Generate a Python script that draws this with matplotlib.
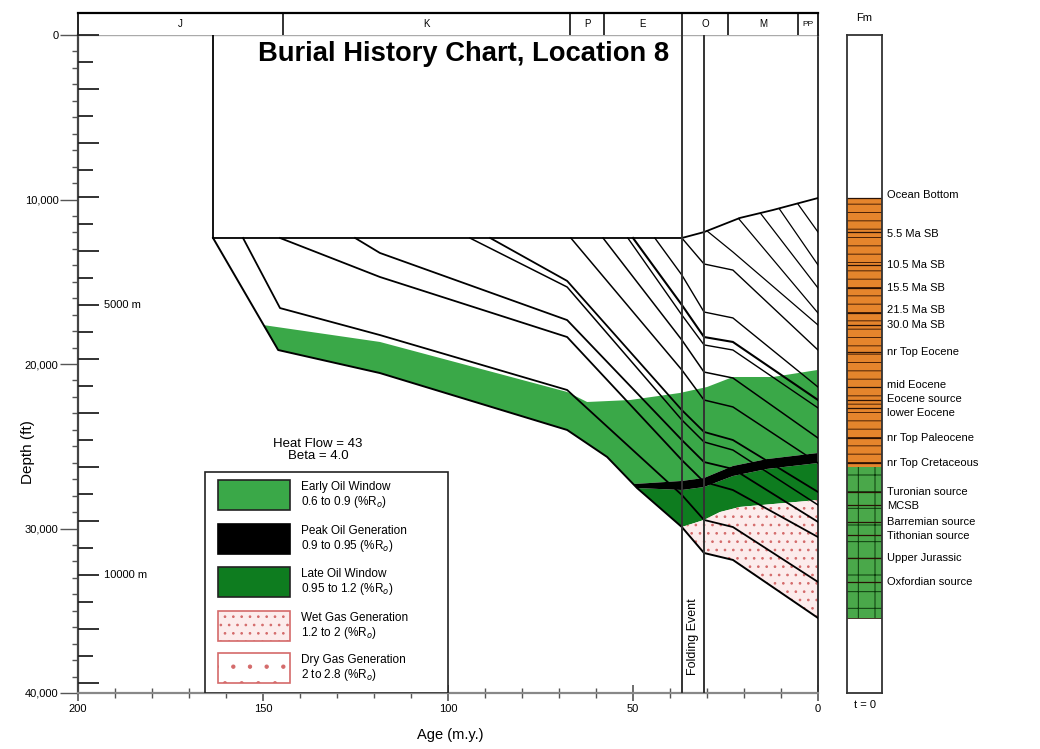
import numpy as np
import matplotlib.pyplot as plt
from matplotlib.patches import Rectangle
from matplotlib.ticker import MultipleLocator

plt.rcParams['font.family'] = ['Liberation Sans', 'DejaVu Sans']
plt.rcParams['hatch.linewidth'] = 0.7

# ---- data: age in Ma, depth in thousands of feet ----
period_names = ['J', 'K', 'P', 'E', 'O', 'M', 'PP']
period_edges = [200, 144.6, 67.0, 57.8, 36.8, 24.3, 5.4, 0]

fold_event = [36.8, 30.8]

sea_age = [163.5, 36.8, 30.8, 21.1, 12.2, 0]
sea_depth = [12.34, 12.34, 11.98, 11.12, 10.64, 9.91]

basement_age = [163.5, 145.9, 118.4, 67.8, 57.0, 48.9, 36.8, 30.8, 23.0, 0]
basement_depth = [12.34, 19.15, 20.55, 24.01, 25.65, 27.54, 29.91, 31.49, 31.91, 35.44]

oxf_age = [155.4, 145.4, 118.4, 67.8, 36.8, 30.8, 23.0, 0]
oxf_depth = [12.34, 16.60, 18.24, 21.58, 27.96, 29.48, 29.91, 33.25]

tith_age = [145.4, 118.4, 67.8, 36.8, 30.8, 23.0, 0]
tith_depth = [12.34, 14.71, 18.36, 25.84, 27.17, 27.66, 30.52]

barr_age = [125.1, 118.4, 67.8, 36.8, 30.8, 23.0, 0]
barr_depth = [12.34, 13.25, 17.33, 24.62, 25.96, 26.38, 29.60]

mcsb_age = [94.1, 67.8, 36.8, 30.8, 23.0, 0]
mcsb_depth = [12.34, 15.32, 23.40, 24.74, 25.23, 28.57]

tur_age = [88.6, 67.8, 36.8, 30.8, 23.0, 0]
tur_depth = [12.34, 14.95, 22.80, 24.13, 24.62, 27.78]

cret_age = [66.8, 36.8, 30.8, 23.0, 0]
cret_depth = [12.34, 20.36, 22.19, 22.61, 26.02]

pal_age = [58.1, 36.8, 30.8, 23.0, 0]
pal_depth = [12.34, 18.54, 20.49, 20.85, 24.50]

leoc_age = [51.4, 36.8, 30.8, 23.0, 0]
leoc_depth = [12.34, 17.02, 18.84, 19.15, 22.67]

eocsrc_age = [50.0, 36.8, 30.8, 23.0, 0]
eocsrc_depth = [12.34, 16.41, 18.36, 18.66, 22.19]

meoc_age = [44.1, 36.8, 30.8, 23.0, 0]
meoc_depth = [12.34, 14.59, 16.84, 17.20, 21.40]

teoc_age = [36.8, 30.8, 23.0, 0]
teoc_depth = [12.34, 13.92, 14.29, 19.15]

sb30_age = [30.0, 23.0, 0]
sb30_depth = [11.91, 13.19, 17.63]
sb21_age = [21.5, 0]
sb21_depth = [11.15, 16.90]
sb15_age = [15.5, 0]
sb15_depth = [10.85, 15.38]
sb10_age = [10.5, 0]
sb10_depth = [10.55, 13.98]
sb5_age = [5.5, 0]
sb5_depth = [10.25, 11.98]

# maturity zones
oil_top_age = [150.0, 118.4, 67.8, 62.4, 50.8, 37.3, 30.0, 23.0, 12.2, 0]
oil_top_depth = [17.63, 18.66, 21.70, 22.31, 22.19, 21.76, 21.40, 20.79, 20.79, 20.36]
peak_top_age = [50.0, 36.8, 30.8, 23.0, 13.8, 0]
peak_top_depth = [27.30, 27.11, 26.93, 26.20, 25.78, 25.41]
peak_bot_age = [48.9, 36.8, 30.8, 23.0, 13.8, 0]
peak_bot_depth = [27.54, 27.66, 27.48, 26.81, 26.38, 26.02]
gas_top_age = [36.8, 30.8, 26.5, 21.1, 0]
gas_top_depth = [29.91, 29.48, 29.00, 28.69, 28.27]

# formation column (present day depths) and where each name is written
fm_names = ['Ocean Bottom', '5.5 Ma SB', '10.5 Ma SB', '15.5 Ma SB', '21.5 Ma SB',
            '30.0 Ma SB', 'nr Top Eocene', 'mid Eocene', 'Eocene source', 'lower Eocene',
            'nr Top Paleocene', 'nr Top Cretaceous', 'Turonian source', 'MCSB',
            'Barremian source', 'Tithonian source', 'Upper Jurassic', 'Oxfordian source']
fm_depths = [9.91, 11.98, 13.98, 15.38, 16.90, 17.63, 19.27, 21.40, 22.19, 22.67,
             24.50, 26.02, 27.78, 28.57, 29.60, 30.40, 31.79, 33.25]
fm_label_depths = [9.75, 12.10, 13.98, 15.38, 16.70, 17.62, 19.27, 21.25, 22.10, 22.95,
                   24.50, 26.02, 27.78, 28.62, 29.60, 30.45, 31.79, 33.25]
clastic_base = 26.26

legend_names = ['Early Oil Window', 'Peak Oil Generation', 'Late Oil Window',
                'Wet Gas Generation', 'Dry Gas Generation']
legend_ranges = ['0.6 to 0.9 (%R$_o$)', '0.9 to 0.95 (%R$_o$)', '0.95 to 1.2 (%R$_o$)',
                 '1.2 to 2 (%R$_o$)', '2 to 2.8 (%R$_o$)']

EARLY = '#3aa848'
LATE = '#0e7c1f'
GAS_FACE = '#fcecec'
GAS_DOT = '#d46a6a'

horizons = [
    (basement_age, basement_depth, 1.4),
    (oxf_age, oxf_depth, 1.3),
    (tith_age, tith_depth, 1.3),
    (barr_age, barr_depth, 1.3),
    (mcsb_age, mcsb_depth, 1.1),
    (tur_age, tur_depth, 1.3),
    (cret_age, cret_depth, 1.1),
    (pal_age, pal_depth, 1.1),
    (leoc_age, leoc_depth, 1.0),
    (eocsrc_age, eocsrc_depth, 1.5),
    (meoc_age, meoc_depth, 1.0),
    (teoc_age, teoc_depth, 1.0),
    (sb30_age, sb30_depth, 0.9),
    (sb21_age, sb21_depth, 0.9),
    (sb15_age, sb15_depth, 0.9),
    (sb10_age, sb10_depth, 0.9),
    (sb5_age, sb5_depth, 0.9),
]

W, H = 1040, 749
fig = plt.figure(figsize=(W / 100, H / 100), dpi=100)
L, R, T, B = 78, 818, 35, 693
rect = [L / W, 1 - B / H, (R - L) / W, (B - T) / H]
ax = fig.add_axes(rect)
strip = fig.add_axes([L / W, 1 - T / H, (R - L) / W, 22 / H])
col = fig.add_axes([847 / W, 1 - B / H, 35 / W, (B - T) / H])


def fx(px):
    return (px - L) / (R - L)


def fy(py):
    return 1 - (py - T) / (B - T)


ax.set_xlim(200, 0)
ax.set_ylim(40, 0)

# ---- maturity fills ----
b_age = np.array(basement_age)
b_dep = np.array(basement_depth)

m = (b_age > peak_top_age[0]) & (b_age < oil_top_age[0])
ex = list(oil_top_age) + peak_top_age[::-1] + list(b_age[m][::-1])
ey = list(oil_top_depth) + peak_top_depth[::-1] + list(b_dep[m][::-1])
ax.fill(ex, ey, color=EARLY, lw=0, zorder=1)

ax.fill(peak_top_age + peak_bot_age[::-1], peak_top_depth + peak_bot_depth[::-1],
        color='black', lw=0, zorder=2)

lx = peak_bot_age + gas_top_age[::-1]
ly = peak_bot_depth + gas_top_depth[::-1]
ax.fill(lx, ly, color=LATE, lw=0, zorder=1)

m = b_age <= gas_top_age[0]
gx = gas_top_age + list(b_age[m][::-1])
gy = gas_top_depth + list(b_dep[m][::-1])
ax.fill(gx, gy, facecolor=GAS_FACE, edgecolor=GAS_DOT, hatch='..', lw=0, zorder=1)

# ---- burial curves ----
for a, d, lw in horizons:
    ax.plot(a, d, color='black', lw=lw, zorder=3, solid_joinstyle='round')
ax.plot(sea_age, sea_depth, color='black', lw=1.3, zorder=3)
ax.vlines(sea_age[0], 0, sea_depth[0], color='black', lw=1.3, zorder=3)

for f in fold_event:
    ax.axvline(f, color='#333333', lw=1.4, zorder=4)
ax.text(np.mean(fold_event), 36.6, 'Folding Event', rotation=90, ha='center',
        va='center', fontsize=9, zorder=5)

# ---- axes styling ----
ax.set_yticks([0, 10, 20, 30, 40])
ax.set_yticklabels(['0', '10,000', '20,000', '30,000', '40,000'])
ax.yaxis.set_minor_locator(MultipleLocator(1))
ax.tick_params(axis='y', which='major', direction='out', length=13, width=1,
               color='#555555', labelsize=8, pad=1)
ax.tick_params(axis='y', which='minor', direction='out', length=4, width=1,
               color='#555555')
ax.set_xticks([200, 150, 100, 50, 0])
ax.xaxis.set_minor_locator(MultipleLocator(10))
ax.tick_params(axis='x', which='major', direction='inout', length=12, width=1.2,
               color='#555555', labelsize=8, pad=2)
ax.tick_params(axis='x', which='minor', direction='inout', length=7, width=1,
               color='#555555')
ax.spines['left'].set_color('#444444')
ax.spines['left'].set_linewidth(1.6)
ax.spines['bottom'].set_color('#888888')
ax.spines['bottom'].set_linewidth(1.6)
ax.spines['top'].set_color('#aaaaaa')
ax.spines['top'].set_linewidth(1.0)
ax.spines['right'].set_color('#333333')
ax.spines['right'].set_linewidth(1.4)

# metre scale on the inside of the depth axis (overlay axes in metres)
axm = fig.add_axes(rect, frameon=False)
axm.patch.set_visible(False)
axm.set_ylim(ax.get_ylim()[0] * 304.8, 0)
axm.set_xticks([])
axm.yaxis.set_major_locator(MultipleLocator(1000))
axm.yaxis.set_minor_locator(MultipleLocator(500))
axm.tick_params(axis='y', which='major', direction='in', length=15, width=1.3,
                color='#222222', labelleft=False)
axm.tick_params(axis='y', which='minor', direction='in', length=11, width=1.3,
                color='#222222')
ax.text(193, 5000 / 304.8, '5000 m', fontsize=8, va='center', ha='left')
ax.text(193, 10000 / 304.8, '10000 m', fontsize=8, va='center', ha='left')

fig.text(28 / W, 1 - 452 / H, 'Depth (ft)', rotation=90, ha='center', va='center',
         fontsize=11)
fig.text(450 / W, 1 - 735 / H, 'Age (m.y.)', ha='center', va='center', fontsize=10.5)

ax.text(fx(464), fy(54), 'Burial History Chart, Location 8', transform=ax.transAxes,
        ha='center', va='center', fontsize=19.7, fontweight='bold', zorder=6)
ax.text(fx(318), fy(450), 'Heat Flow = 43\nBeta = 4.0', transform=ax.transAxes,
        ha='center', va='center', fontsize=9.5, linespacing=1.0, zorder=6)

# ---- legend ----
ax.add_patch(Rectangle((fx(205), 0), fx(448) - fx(205), fy(472), transform=ax.transAxes,
                       facecolor='white', edgecolor='#222222', lw=1.2, zorder=7))
leg_tops = [480, 524, 567, 611, 653]
leg_style = [dict(facecolor=EARLY, edgecolor='#222222'),
             dict(facecolor='black', edgecolor='black'),
             dict(facecolor=LATE, edgecolor='#222222'),
             dict(facecolor=GAS_FACE, edgecolor=GAS_DOT, hatch='..'),
             dict(facecolor='white', edgecolor=GAS_DOT, hatch='.')]
for top, name, rng, st in zip(leg_tops, legend_names, legend_ranges, leg_style):
    ax.add_patch(Rectangle((fx(218), fy(top + 30)), fx(290) - fx(218), fy(top) - fy(top + 30),
                           transform=ax.transAxes, lw=1.2, zorder=8, **st))
    ax.text(fx(301), fy(top + 7), name, transform=ax.transAxes, fontsize=8.5,
            va='center', zorder=8)
    ax.text(fx(301), fy(top + 22), rng, transform=ax.transAxes, fontsize=8.5,
            va='center', zorder=8)

# ---- period strip ----
strip.set_xlim(200, 0)
strip.set_ylim(0, 1)
strip.set_xticks([])
strip.set_yticks([])
for e in period_edges[1:-1]:
    strip.axvline(e, color='#222222', lw=1.3)
for i, name in enumerate(period_names):
    strip.text((period_edges[i] + period_edges[i + 1]) / 2, 0.5, name, ha='center',
               va='center', fontsize=7 if name != 'PP' else 6)
for s in ['left', 'right']:
    strip.spines[s].set_color('#222222')
    strip.spines[s].set_linewidth(1.4)
strip.spines['top'].set_linewidth(1.6)
strip.spines['bottom'].set_visible(False)

# ---- formation column ----
col.set_xlim(0, 1)
col.set_ylim(40, 0)
col.set_xticks([])
col.set_yticks([])
col.axhspan(fm_depths[0], clastic_base, facecolor='#e5852c', edgecolor='#4a2005',
            hatch='--', lw=0)
col.axhspan(clastic_base, basement_depth[-1], facecolor='#4aa84a', edgecolor='#0c3a0c',
            hatch='+', lw=0)
for d in fm_depths:
    col.axhline(d, color='#2a1205', lw=0.9)
col.axhline(basement_depth[-1], color='#2a1205', lw=0.6)
for name, d in zip(fm_names, fm_label_depths):
    col.text(1.15, d, name, transform=col.get_yaxis_transform(), fontsize=8,
             va='center', ha='left')
for s in col.spines.values():
    s.set_color('#333333')
    s.set_linewidth(1.3)
col.text(0.5, 1.026, 'Fm', transform=col.transAxes, ha='center', va='center', fontsize=8)
col.text(0.5, -0.018, 't = 0', transform=col.transAxes, ha='center', va='center',
         fontsize=8)

fig.savefig('out.png', dpi=100)
